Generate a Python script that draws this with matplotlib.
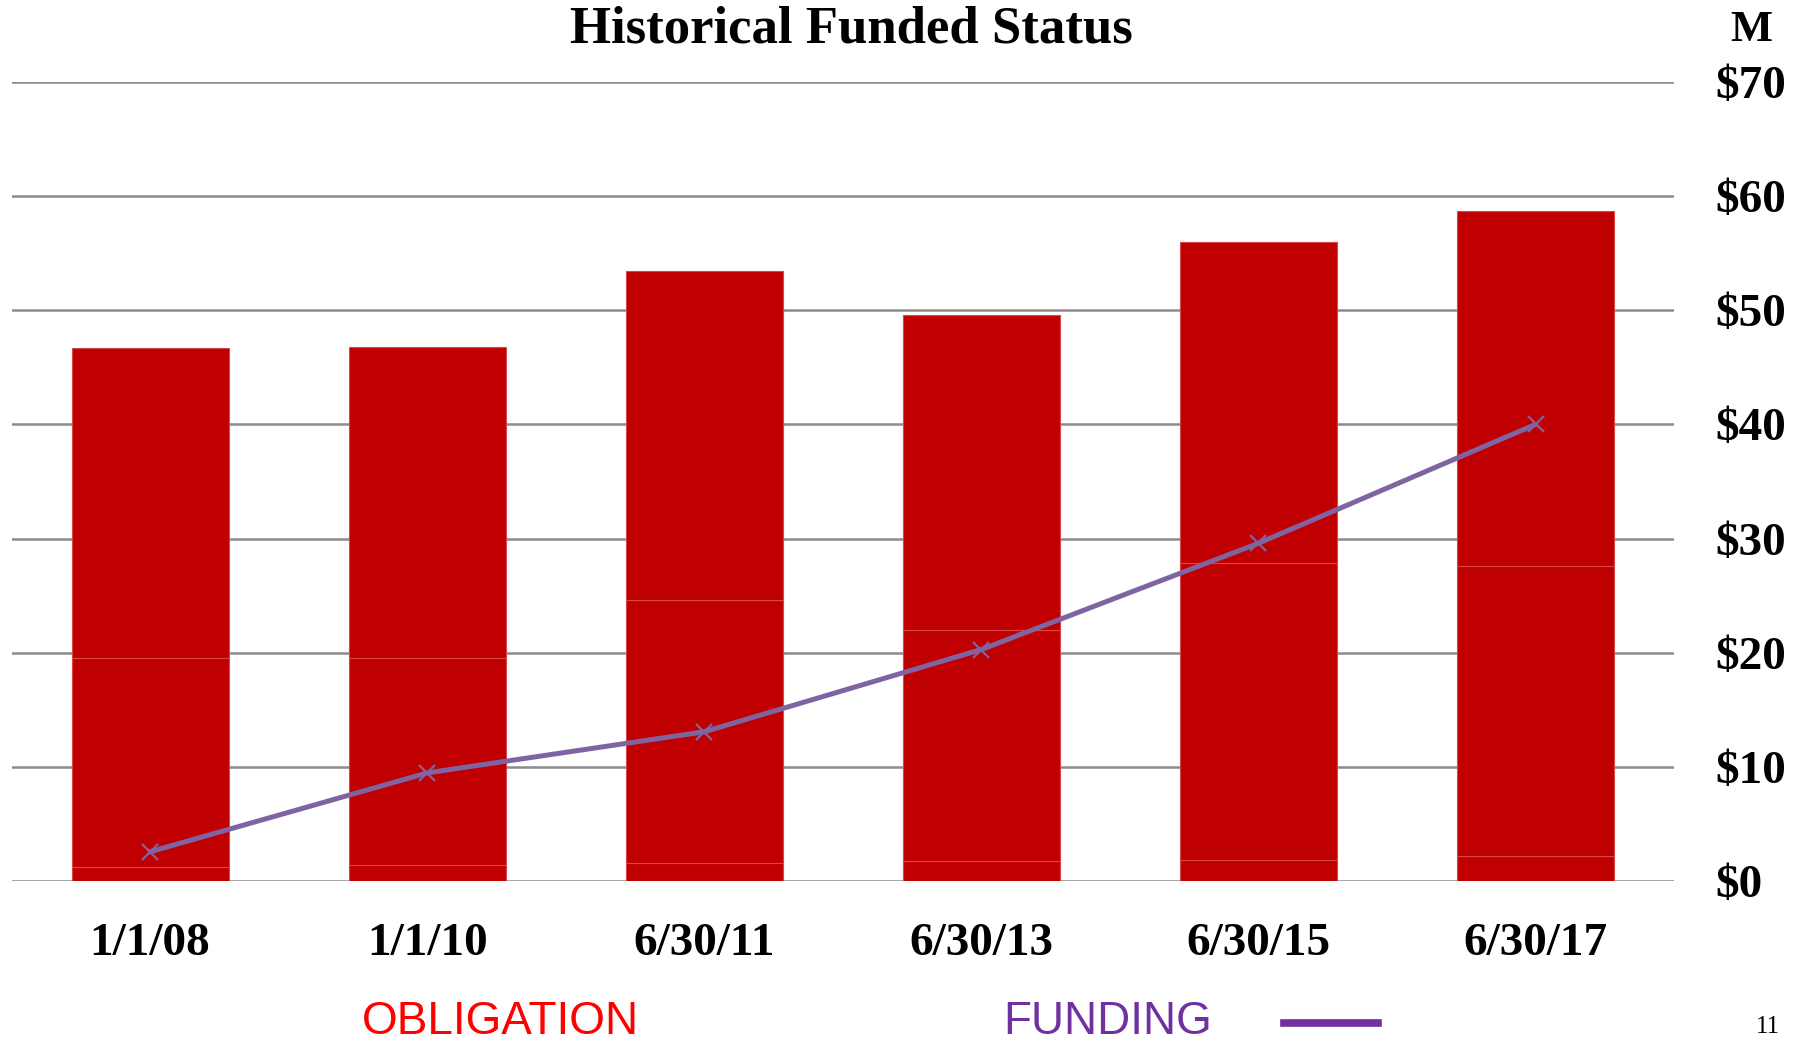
import matplotlib
matplotlib.use("Agg")
import matplotlib.pyplot as plt
import numpy as np

categories = ["1/1/08", "1/1/10", "6/30/11", "6/30/13", "6/30/15", "6/30/17"]
# Obligation stacked segments ($M)
seg_bottom = [1.25, 1.45, 1.65, 1.75, 1.9, 2.2]
seg_middle = [18.35, 18.15, 22.95, 20.25, 26.0, 25.4]
seg_top = [27.1, 27.2, 28.8, 27.6, 28.1, 31.1]
# Funding line ($M)
funding = [2.6, 9.5, 13.1, 20.3, 29.6, 40.0]
yticks = [0, 10, 20, 30, 40, 50, 60, 70]
ytick_labels = ["$0", "$10", "$20", "$30", "$40", "$50", "$60", "$70"]

serif = ["Liberation Serif", "DejaVu Serif"]
sans = ["Liberation Sans", "DejaVu Sans"]

fig = plt.figure(figsize=(18.02, 10.44), dpi=100)
ax = fig.add_axes([0.0064, 0.1557, 0.9226, 0.7661])

x = np.arange(len(categories))
w = 0.567
bar_color = "#C00000"
edge = "#D84848"
b1 = np.array(seg_bottom)
b2 = b1 + np.array(seg_middle)
ax.bar(x, seg_bottom, w, color=bar_color, edgecolor=edge, linewidth=0.8, zorder=3)
ax.bar(x, seg_middle, w, bottom=b1, color=bar_color, edgecolor=edge, linewidth=0.8, zorder=3)
ax.bar(x, seg_top, w, bottom=b2, color=bar_color, edgecolor=edge, linewidth=0.8, zorder=3)

ax.plot(x, funding, color="#8064A2", linewidth=3.6, marker="x", markersize=12,
        markeredgewidth=1.6, zorder=4, solid_capstyle="round")

ax.set_xlim(-0.5, 5.5)
ax.set_ylim(0, 70)
ax.set_yticks(yticks)
ax.set_yticklabels(ytick_labels)
ax.yaxis.tick_right()
ax.tick_params(axis="y", length=0, pad=30)
ax.tick_params(axis="x", length=0, pad=30)
ax.set_xticks(x)
ax.set_xticklabels(categories)
for lab in ax.get_yticklabels():
    lab.set_fontfamily(serif)
    lab.set_fontweight("bold")
    lab.set_fontsize(34)
    lab.set_horizontalalignment("left")
for lab in ax.get_xticklabels():
    lab.set_fontfamily(serif)
    lab.set_fontweight("bold")
    lab.set_fontsize(34)

ax.grid(axis="y", color="#8C8C8C", linewidth=1.8, zorder=1)
ax.set_axisbelow(True)
for s in ax.spines.values():
    s.set_visible(False)

fig.text(0.4725, 0.972, "Historical Funded Status", ha="center", va="center",
         fontsize=38, fontweight="bold", family=serif)
fig.text(0.972, 0.971, "M", ha="center", va="center", fontsize=32,
         fontweight="bold", family=serif)

fig.text(0.2775, 0.021, "OBLIGATION", ha="center", va="center", fontsize=33,
         color="#FF0000", family=sans)
fig.text(0.6145, 0.021, "FUNDING", ha="center", va="center", fontsize=33,
         color="#7030A0", family=sans)
fig.add_artist(plt.Line2D([0.7125, 0.7648], [0.0205, 0.0205], transform=fig.transFigure,
                          color="#7030A0", linewidth=5.5))
fig.text(0.981, 0.016, "11", ha="center", va="center", fontsize=18, family=serif)

fig.savefig("out.png", dpi=100)
